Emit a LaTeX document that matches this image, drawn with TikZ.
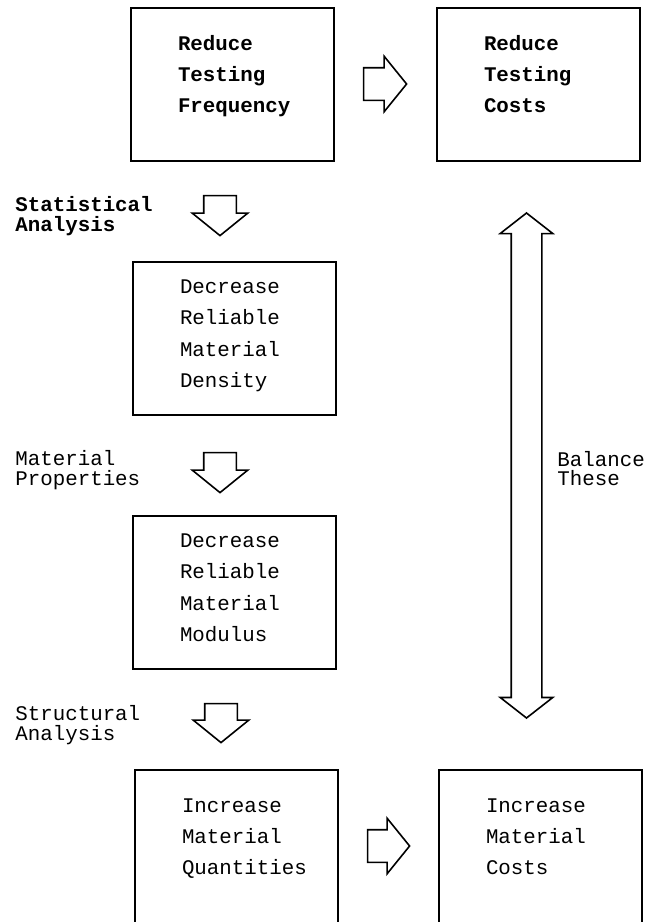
\documentclass[tikz,border=0pt]{standalone}
\usepackage{fontspec}
\setmonofont{Liberation Mono}
\usetikzlibrary{shapes.arrows}
\hyphenpenalty=10000
\begin{document}
\begin{tikzpicture}[x=0.5pt, y=-0.5pt]
        \tikzset{box/.style={draw, line width=1pt, minimum width=101.5pt, minimum height=76.5pt, text width=54pt, inner xsep=0pt, align=flush left, text height=7pt, font=\ttfamily\fontsize{10.4pt}{15.7pt}\selectfont},
                 three/.style={box, text depth=41.5pt},
                 four/.style={box, text depth=52pt},
                 heavy/.style={font=\ttfamily\bfseries\fontsize{10.4pt}{15.7pt}\selectfont},
                 lbl/.style={anchor=north west, inner sep=0pt, align=left, font=\ttfamily\fontsize{10.4pt}{10pt}\selectfont},
                 blk/.style={draw, line width=0.8pt, single arrow, single arrow head extend=5.75pt, single arrow tip angle=102, inner xsep=0pt, inner ysep=7.75pt}}
        \useasboundingbox (0,0) rectangle (646,922);
        \node[three, heavy] (freq) at (232,84.5) {Reduce\\Testing\\Frequency};
        \node[three, heavy] (tcost) at (538,84.5) {Reduce\\Testing\\Costs};
        \node[four] (dens) at (234,338.5) {Decrease\\Reliable\\Material\\Density};
        \node[four] (modul) at (234,592.5) {Decrease\\Reliable\\Material\\Modulus};
        \node[three] (quant) at (236,846.5) {Increase\\Material\\Quantities};
        \node[three] (mcost) at (540,846.5) {Increase\\Material\\Costs};
        \node[blk, minimum height=21.5pt] (r1) at (378.5,84) {};
        \node[blk, minimum height=21pt] (r2) at (382,846) {};
        \node[blk, rotate=-90, minimum height=20pt] (a1) at (220,209) {};
        \node[blk, rotate=-90, minimum height=20pt] (a2) at (220,466) {};
        \node[blk, rotate=-90, minimum height=19.5pt] (a3) at (221,716.5) {};
        \node[draw, line width=0.8pt, double arrow, double arrow head extend=5.5pt, double arrow tip angle=104, inner xsep=0pt, inner ysep=7.25pt, minimum height=252.5pt, rotate=90] (bal) at (526.5,465.5) {};
        \node[lbl, font=\ttfamily\bfseries\fontsize{10.4pt}{10pt}\selectfont] (stat) at (15,196) {Statistical\\Analysis};
        \node[lbl] (prop) at (15,450) {Material\\Properties};
        \node[lbl] (struc) at (15,705) {Structural\\Analysis};
        \node[lbl, font=\ttfamily\fontsize{10.4pt}{9.5pt}\selectfont] (these) at (557,451) {Balance\\These};
\end{tikzpicture}
\end{document}
